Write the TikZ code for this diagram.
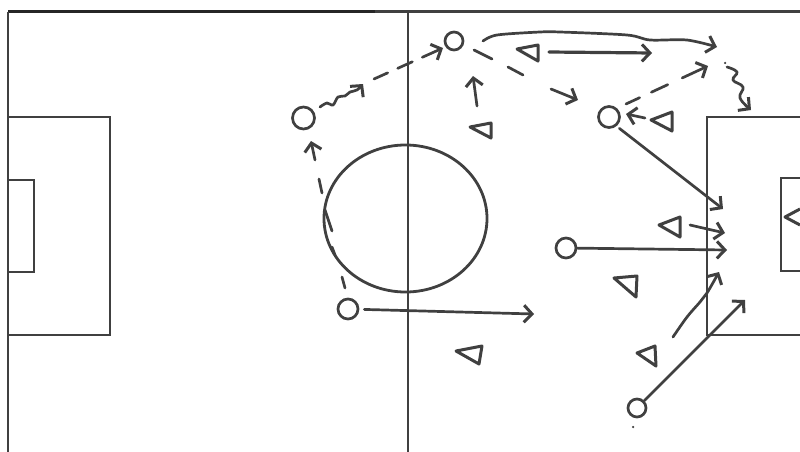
\documentclass[tikz,border=0pt]{standalone}
\usetikzlibrary{arrows.meta}
\definecolor{ink}{HTML}{404040}
\tikzset{
  pitch/.style={draw=ink,line width=2.4pt,line join=miter},
  player/.style={circle,draw=ink,line width=2.7pt,inner sep=0pt,fill=white},
  tri/.style={draw=ink,line width=3pt,line join=round},
  run/.style={draw=ink,line width=2.7pt,line cap=round,line join=round,-{Straight Barb[length=8pt,width=17pt,line width=3pt]}},
  plain/.style={draw=ink,line width=2.7pt,line cap=round,line join=round},
  speck/.style={fill=ink,circle,inner sep=0pt,minimum size=2.5pt}
}
\begin{document}
\begin{tikzpicture}[x=1pt,y=-1pt]
\useasboundingbox (0,0) rectangle (800,452);
% pitch
\draw[draw=ink,line width=3pt] (8,12) -- (800,12);
\draw[draw=black!85,line width=3.6pt] (8,11.5) -- (375,11.5);
\draw[pitch] (8,12) -- (8,452);
\draw[pitch] (408,12) -- (408,452);
\draw[pitch,line width=2.8pt] (405.5,218.5) ellipse [x radius=81.5,y radius=73.5];
\draw[pitch] (8,117) -- (110,117) -- (110,335) -- (8,335);
\draw[pitch] (8,180) -- (34,180) -- (34,272) -- (8,272);
\draw[pitch,line width=2.8pt] (800,117) -- (707,117) -- (707,335) -- (800,335);
\draw[pitch,line width=2.8pt] (800,178) -- (781,178) -- (781,271) -- (800,271);
% players
\node[player,minimum size=22pt] (pa) at (303.5,118) {};
\node[player,minimum size=18pt] (pb) at (454,41) {};
\node[player,minimum size=21pt] (pc) at (609,117) {};
\node[player,minimum size=20pt] (pd) at (566,248) {};
\node[player,minimum size=20pt] (pe) at (348,309) {};
\node[player,minimum size=18pt] (pf) at (637,408) {};
% opponents
\draw[tri] (470,127) -- (491,123) -- (491,138) -- cycle;
\draw[tri] (517,49) -- (538,45) -- (538,61) -- cycle;
\draw[tri] (651,120) -- (672,112) -- (672,131) -- cycle;
\draw[tri] (659,225) -- (680,217) -- (680,237) -- cycle;
\draw[tri] (614,278) -- (637,276) -- (636,297) -- cycle;
\draw[tri] (637,353) -- (655,346) -- (656,366) -- cycle;
\draw[tri] (456,351) -- (482,346) -- (479,364) -- cycle;
\draw[tri] (800,209) -- (785,217) -- (800,225);
% free ends
\coordinate (w1) at (320,107);
\coordinate (w2) at (363,84);
\coordinate (d1) at (374,79);
\coordinate (d2) at (443,48);
\coordinate (l1) at (483,41);
\coordinate (l2) at (717,47);
\coordinate (s1) at (549,52);
\coordinate (s2) at (652,53);
\coordinate (r1) at (474,50);
\coordinate (r2) at (492,59);
\coordinate (r3) at (508,67);
\coordinate (r4) at (523,75);
\coordinate (r5) at (551,89);
\coordinate (r6) at (578,100);
\coordinate (u1) at (477,106);
\coordinate (u2) at (473,76);
\coordinate (e1) at (626,104);
\coordinate (e2) at (708,66);
\coordinate (v1) at (727,67);
\coordinate (v2) at (751,110);
\coordinate (b1) at (645,118);
\coordinate (b2) at (626,114);
\coordinate (g1) at (723,209);
\coordinate (t1) at (690,225);
\coordinate (t2) at (725,233);
\coordinate (g2) at (727,250);
\coordinate (n1) at (673,337);
\coordinate (n2) at (719,272);
\coordinate (f2) at (745,300);
\coordinate (h2) at (534,314);
\coordinate (q1) at (345,288);
\coordinate (q2) at (342,277);
\coordinate (q3) at (335,255);
\coordinate (q4) at (332,247);
\coordinate (q5) at (332,231);
\coordinate (q6) at (325,210);
\coordinate (q7) at (322,193);
\coordinate (q8) at (319,179);
\coordinate (q9) at (315,160);
\coordinate (q10) at (311,141);
% wavy run into dashed pass
\draw[run] plot[smooth,tension=0.6] coordinates {(w1) (327,103) (333,105) (338,97) (345,96) (350,92) (357,90) (w2)};
\draw[run,dash pattern=on 15pt off 11pt on 16pt off 11pt on 40pt] (d1) -- (d2);
% long curved run
\draw[run] plot[smooth,tension=0.5] coordinates {(l1) (497,35) (540,32) (560,32) (627,35) (650,40) (687,40) (l2)};
\draw[run,line width=3.2pt] (s1) -- (s2);
% dashed diagonal
\draw[plain] (r1) -- (r2);
\draw[plain] (r3) -- (r4);
\draw[run] (r5) -- (r6);
\draw[run] (u1) -- (u2);
\draw[run,dash pattern=on 15pt off 13pt on 18pt off 16pt on 40pt] (e1) -- (e2);
% second wavy run
\draw[run] plot[smooth,tension=0.7] coordinates {(v1) (737,72) (733,80) (743,87) (740,98) (v2)};
\node[speck] (sp1) at (725,63) {};
\draw[run] (b1) -- (b2);
\draw[run] ([shift={(2,3)}]pc.south east) -- (g1);
\draw[run] plot[smooth,tension=0.6] coordinates {(t1) (703,228) (t2)};
\draw[run] (pd) -- (g2);
\draw[run] plot[smooth,tension=0.6] coordinates {(n1) (687,317) (700,302) (707,293) (n2)};
\draw[run] (pf) -- (f2);
\node[speck] (sp2) at (633,427) {};
\draw[run,shorten <=5pt] (pe) -- (h2);
% dashed run round the circle
\draw[plain] (q1) -- (q2);
\draw[plain] (q3) -- (q4);
\draw[plain] (q5) -- (q6);
\draw[plain] (q7) -- (q8);
\draw[run] (q9) -- (q10);
\end{tikzpicture}
\end{document}
